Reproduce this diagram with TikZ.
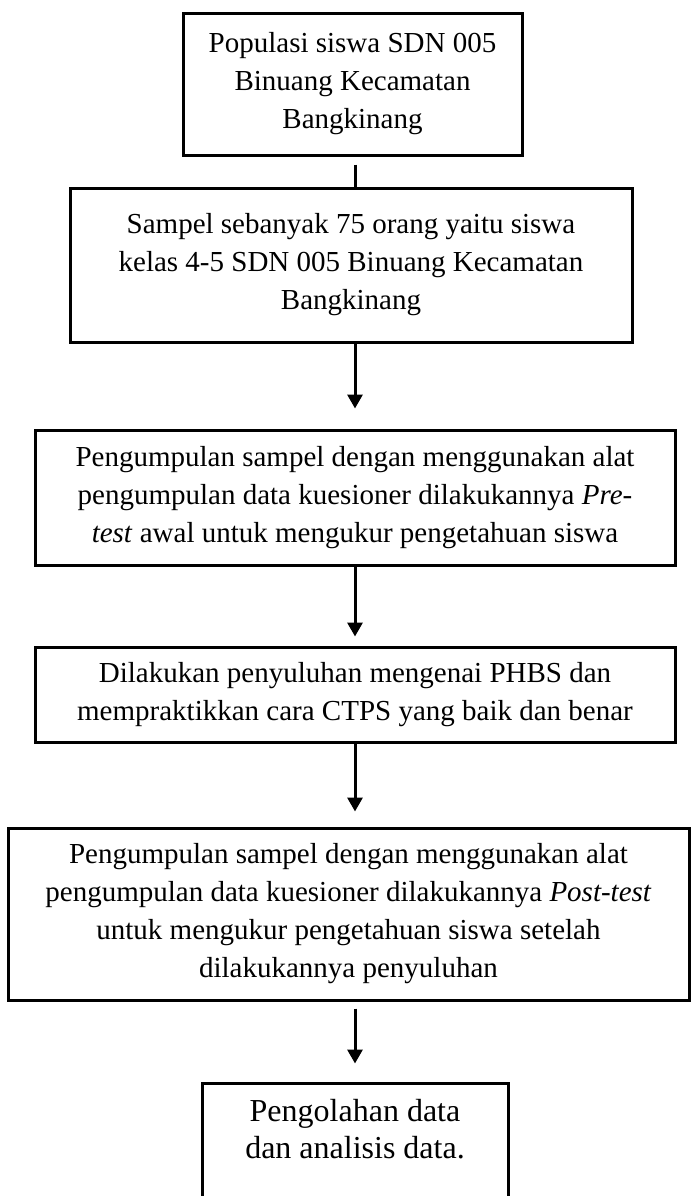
\documentclass[tikz,border=0pt]{standalone}
\usepackage{fontspec}
\setmainfont{Liberation Serif}
\usetikzlibrary{arrows.meta}
\tikzset{
  box/.style={draw,line width=1.5pt,align=center,inner sep=0pt,
    font=\fontsize{14.5pt}{19pt}\selectfont},
  link/.style={line width=1.5pt},
  flow/.style={line width=1.5pt,-{Triangle[length=7pt,width=7.5pt]}}
}
\begin{document}
\begin{tikzpicture}[x=0.5pt,y=-0.5pt]
    \clip (0,0) rectangle (692,1196);
    \coordinate (col) at (355,0);

    \node[box,minimum width=169.5pt,minimum height=71pt] (pop) at (352.5,84)
      {Populasi siswa SDN 005\\Binuang Kecamatan\\Bangkinang};
    \node[box,minimum width=281pt,minimum height=77pt] (sampel) at (351,265)
      {Sampel sebanyak 75 orang yaitu siswa\\kelas 4-5 SDN 005 Binuang Kecamatan\\Bangkinang};
    \node[box,minimum width=320pt,minimum height=67.5pt] (pretest) at (355,497.5)
      {Pengumpulan sampel dengan menggunakan alat\\pengumpulan data kuesioner dilakukannya \textit{Pre-}\\\textit{test} awal untuk mengukur pengetahuan siswa};
    \node[box,minimum width=320pt,minimum height=47.5pt] (suluh) at (355,694.5)
      {Dilakukan penyuluhan mengenai PHBS dan\\mempraktikkan cara CTPS yang baik dan benar};
    \node[box,minimum width=340.5pt,minimum height=86pt] (posttest) at (348.5,914)
      {Pengumpulan sampel dengan menggunakan alat\\pengumpulan data kuesioner dilakukannya \textit{Post-test}\\untuk mengukur pengetahuan siswa setelah\\dilakukannya penyuluhan};
    \node[box,minimum width=153pt,minimum height=64pt,
      font=\fontsize{16pt}{18.5pt}\selectfont] (olah) at (355,1147)
      {Pengolahan data\\dan analisis data.\\\mbox{}};

    \draw[link,shorten <=4pt] (pop.south -| col) -- (sampel.north -| col);
    \draw[flow,shorten >=10pt] (sampel.south -| col) -- (pretest.north -| col);
    \draw[flow,shorten >=4.5pt] (pretest.south -| col) -- (suluh.north -| col);
    \draw[flow,shorten >=7.5pt] (suluh.south -| col) -- (posttest.north -| col);
    \draw[flow,shorten <=3.5pt,shorten >=9pt] (posttest.south -| col) -- (olah.north -| col);

\end{tikzpicture}
\end{document}
